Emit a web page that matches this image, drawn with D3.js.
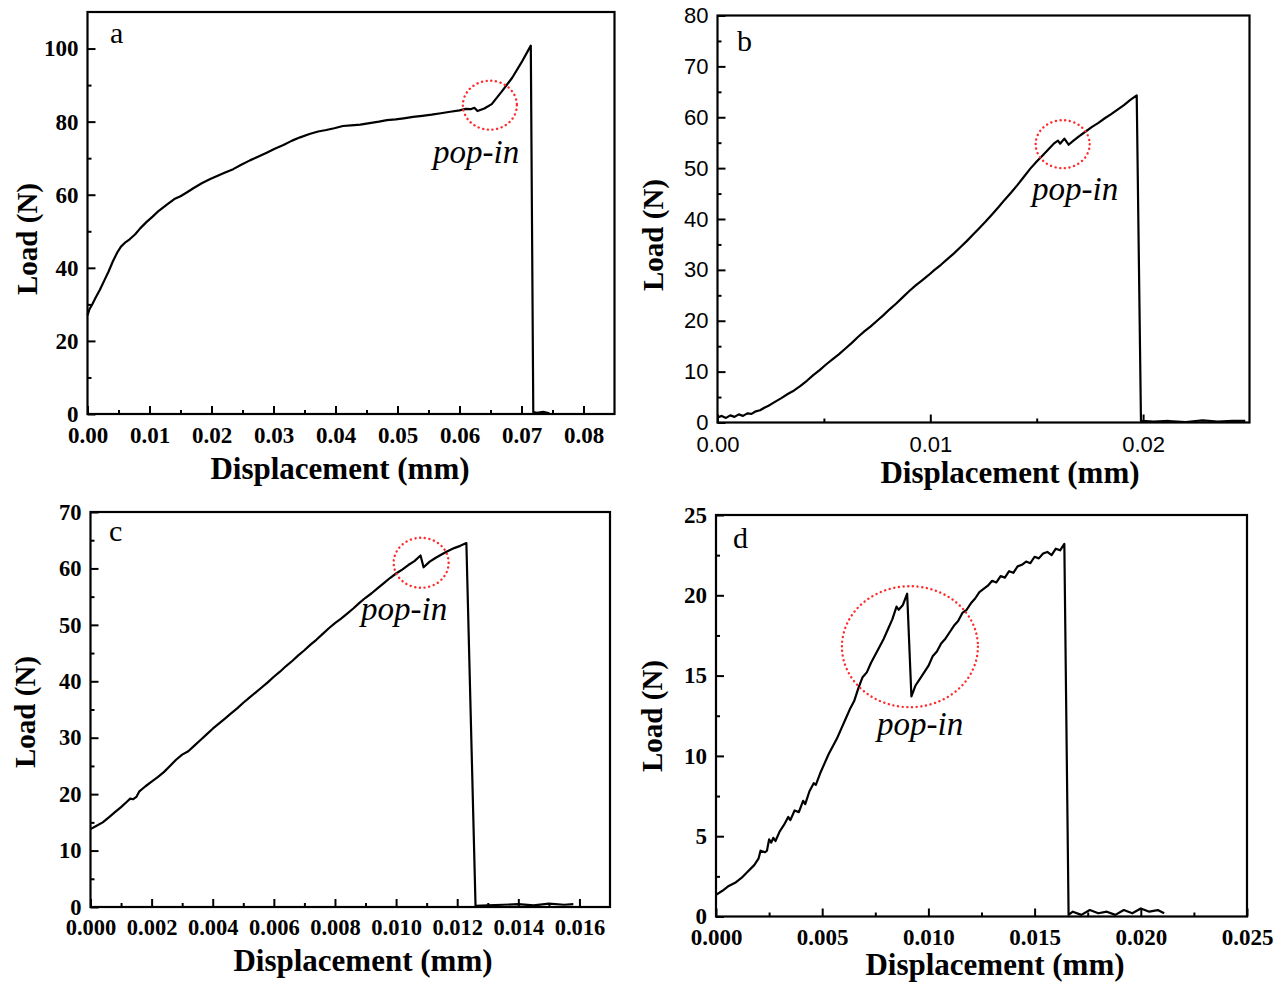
<!DOCTYPE html>
<html>
<head>
<meta charset="utf-8">
<script src="https://cdn.jsdelivr.net/npm/d3@7/dist/d3.min.js"></script>
<style>
  html, body { margin: 0; padding: 0; background: #fff; }
  svg { display: block; }
</style>
</head>
<body>
<svg id="chart" width="1286" height="984"></svg>
<script>
// ---------------- DATA ----------------
// [displacement (mm), load (N)]
const curveA = [
  [0.0000, 27.0], [0.0003, 28.6], [0.0008, 30.1], [0.0013, 31.8], [0.0020, 34.0],
  [0.0027, 36.5], [0.0034, 39.0], [0.0041, 41.8], [0.0048, 44.2], [0.0054, 45.8],
  [0.0060, 46.8], [0.0068, 47.8], [0.0077, 49.2], [0.0085, 50.8], [0.0095, 52.5],
  [0.0105, 54.0], [0.0115, 55.6], [0.0128, 57.3], [0.0140, 58.8], [0.0150, 59.6],
  [0.0160, 60.6], [0.0172, 61.9], [0.0185, 63.2], [0.0198, 64.3], [0.0210, 65.2],
  [0.0222, 66.1], [0.0235, 67.0], [0.0248, 68.2], [0.0262, 69.4], [0.0275, 70.4],
  [0.0289, 71.5], [0.0302, 72.6], [0.0316, 73.6], [0.0330, 74.8], [0.0343, 75.7],
  [0.0358, 76.6], [0.0372, 77.3], [0.0385, 77.7], [0.0398, 78.2], [0.0412, 78.8],
  [0.0425, 79.0], [0.0440, 79.2], [0.0455, 79.6], [0.0470, 80.0], [0.0483, 80.4],
  [0.0497, 80.6], [0.0510, 80.9], [0.0525, 81.3], [0.0540, 81.6], [0.0555, 81.9],
  [0.0570, 82.3], [0.0585, 82.7], [0.0600, 83.1], [0.0610, 83.5], [0.0618, 83.4],
  [0.0624, 83.8], [0.0629, 82.9], [0.0640, 83.6], [0.0652, 84.8], [0.0668, 88.2],
  [0.0685, 92.0], [0.0700, 96.2], [0.0715, 100.8], [0.0719, 0.5], [0.0725, 0.3],
  [0.0735, 0.6], [0.0745, 0.2]
];
const curveB = [
  [0.0000, 1.0], [0.0002, 1.3], [0.0004, 0.9], [0.0006, 1.4], [0.0008, 1.1],
  [0.0010, 1.6], [0.0012, 1.3], [0.0014, 1.8], [0.0016, 1.7], [0.0018, 2.2],
  [0.0020, 2.4], [0.0022, 2.9], [0.0024, 3.3], [0.0026, 3.8], [0.0028, 4.3],
  [0.0030, 4.8], [0.0033, 5.6], [0.0036, 6.3], [0.0039, 7.2], [0.0042, 8.2],
  [0.0045, 9.3], [0.0048, 10.3], [0.0051, 11.4], [0.0054, 12.4], [0.0057, 13.4],
  [0.0060, 14.5], [0.0063, 15.6], [0.0066, 16.8], [0.0069, 17.9], [0.0072, 18.9],
  [0.0075, 20.0], [0.0078, 21.1], [0.0081, 22.3], [0.0084, 23.4], [0.0087, 24.6],
  [0.0090, 25.8], [0.0093, 26.9], [0.0096, 27.9], [0.0099, 28.9], [0.0102, 30.0],
  [0.0105, 31.0], [0.0108, 32.1], [0.0111, 33.2], [0.0114, 34.4], [0.0117, 35.6],
  [0.0120, 36.9], [0.0123, 38.2], [0.0126, 39.5], [0.0129, 40.9], [0.0132, 42.3],
  [0.0135, 43.8], [0.0138, 45.2], [0.0141, 46.7], [0.0144, 48.3], [0.0147, 49.9],
  [0.0150, 51.3], [0.0153, 52.6], [0.0156, 53.9], [0.0158, 54.8], [0.0160, 55.4],
  [0.0161, 54.8], [0.0163, 55.8], [0.0165, 54.6], [0.0167, 55.3], [0.0170, 56.3],
  [0.0173, 57.2], [0.0176, 58.1], [0.0179, 58.9], [0.0182, 59.8], [0.0185, 60.6],
  [0.0188, 61.5], [0.0191, 62.4], [0.0194, 63.4], [0.0197, 64.3], [0.0199, 0.3],
  [0.0205, 0.2], [0.0212, 0.3], [0.0220, 0.1], [0.0228, 0.4], [0.0235, 0.2],
  [0.0242, 0.3], [0.0248, 0.3]
];
const curveC = [
  [0.0000, 13.8], [0.0002, 14.4], [0.0004, 15.0], [0.0006, 15.9], [0.0008, 16.8],
  [0.0010, 17.7], [0.0012, 18.7], [0.0013, 19.2], [0.0014, 19.1], [0.0015, 19.5],
  [0.0016, 20.5], [0.0018, 21.4], [0.0020, 22.2], [0.0022, 23.0], [0.0024, 23.9],
  [0.0026, 25.0], [0.0028, 26.1], [0.0030, 27.0], [0.0032, 27.6], [0.0034, 28.6],
  [0.0036, 29.6], [0.0038, 30.6], [0.0040, 31.6], [0.0042, 32.5], [0.0044, 33.4],
  [0.0046, 34.3], [0.0048, 35.2], [0.0050, 36.2], [0.0052, 37.1], [0.0054, 38.0],
  [0.0056, 38.9], [0.0058, 39.8], [0.0060, 40.8], [0.0062, 41.7], [0.0064, 42.7],
  [0.0066, 43.6], [0.0068, 44.6], [0.0070, 45.5], [0.0072, 46.5], [0.0074, 47.4],
  [0.0076, 48.4], [0.0078, 49.4], [0.0080, 50.3], [0.0082, 51.1], [0.0084, 52.0],
  [0.0086, 52.9], [0.0088, 53.9], [0.0090, 54.8], [0.0092, 55.6], [0.0094, 56.5],
  [0.0096, 57.4], [0.0098, 58.3], [0.0100, 59.1], [0.0102, 59.8], [0.0104, 60.6],
  [0.0106, 61.3], [0.0108, 62.3], [0.0109, 60.2], [0.0111, 61.2], [0.0113, 61.9],
  [0.0115, 62.5], [0.0117, 63.1], [0.0119, 63.6], [0.0121, 64.0], [0.0123, 64.5],
  [0.0126, 0.2], [0.0130, 0.3], [0.0135, 0.4], [0.0140, 0.5], [0.0145, 0.3],
  [0.0150, 0.6], [0.0155, 0.4], [0.0158, 0.5]
];
const curveD = [
  [0.0000, 1.35], [0.0003, 1.6], [0.0006, 1.9], [0.0009, 2.1], [0.0012, 2.4],
  [0.0015, 2.8], [0.0018, 3.2], [0.0020, 3.6], [0.0021, 4.1], [0.0023, 4.0],
  [0.0024, 4.1], [0.0025, 4.8], [0.0026, 4.6], [0.0027, 4.9], [0.0028, 4.7],
  [0.0030, 5.3], [0.0032, 5.7], [0.0034, 6.2], [0.0035, 6.0], [0.0037, 6.6],
  [0.0039, 6.5], [0.0041, 7.2], [0.0042, 7.0], [0.0044, 7.8], [0.0046, 8.3],
  [0.0047, 8.2], [0.0049, 8.9], [0.0051, 9.5], [0.0053, 10.1], [0.0055, 10.6],
  [0.0057, 11.1], [0.0059, 11.7], [0.0061, 12.3], [0.0063, 12.9], [0.0065, 13.4],
  [0.0067, 14.2], [0.0069, 14.9], [0.0071, 15.2], [0.0073, 15.8], [0.0075, 16.3],
  [0.0077, 16.8], [0.0079, 17.3], [0.0081, 17.9], [0.0083, 18.5], [0.0085, 19.3],
  [0.0086, 19.1], [0.0088, 19.4], [0.0090, 20.1], [0.0092, 13.7], [0.0094, 14.4],
  [0.0096, 14.8], [0.0098, 15.2], [0.0100, 15.6], [0.0102, 16.2], [0.0104, 16.5],
  [0.0106, 17.0], [0.0108, 17.3], [0.0110, 17.7], [0.0112, 18.1], [0.0114, 18.4],
  [0.0116, 18.9], [0.0118, 19.1], [0.0120, 19.5], [0.0122, 19.8], [0.0124, 20.2],
  [0.0126, 20.4], [0.0128, 20.6], [0.0130, 20.9], [0.0132, 20.8], [0.0134, 21.2],
  [0.0136, 21.1], [0.0138, 21.5], [0.0140, 21.4], [0.0142, 21.8], [0.0144, 21.9],
  [0.0146, 22.1], [0.0148, 22.0], [0.0150, 22.4], [0.0152, 22.3], [0.0154, 22.6],
  [0.0156, 22.7], [0.0158, 22.5], [0.0160, 22.9], [0.0162, 22.8], [0.0164, 23.2],
  [0.0166, 0.1], [0.0168, 0.3], [0.0172, 0.1], [0.0176, 0.4], [0.0180, 0.2],
  [0.0184, 0.3], [0.0188, 0.1], [0.0192, 0.4], [0.0196, 0.2], [0.0200, 0.5],
  [0.0204, 0.3], [0.0208, 0.4], [0.0211, 0.2]
];

// tick values
const aXTicks = [0, 0.01, 0.02, 0.03, 0.04, 0.05, 0.06, 0.07, 0.08];
const aXMinor = [0.005, 0.015, 0.025, 0.035, 0.045, 0.055, 0.065, 0.075];
const aYTicks = [0, 20, 40, 60, 80, 100];
const aYMinor = [10, 30, 50, 70, 90];
const bXTicks = [0, 0.01, 0.02];
const bXMinor = [0.005, 0.015];
const bYTicks = [0, 10, 20, 30, 40, 50, 60, 70, 80];
const bYMinor = [5, 15, 25, 35, 45, 55, 65, 75];
const cXTicks = [0, 0.002, 0.004, 0.006, 0.008, 0.010, 0.012, 0.014, 0.016];
const cXMinor = [0.001, 0.003, 0.005, 0.007, 0.009, 0.011, 0.013, 0.015];
const cYTicks = [0, 10, 20, 30, 40, 50, 60, 70];
const cYMinor = [5, 15, 25, 35, 45, 55, 65];
const dXTicks = [0, 0.005, 0.010, 0.015, 0.020, 0.025];
const dXMinor = [0.0025, 0.0075, 0.0125, 0.0175, 0.0225];
const dYTicks = [0, 5, 10, 15, 20, 25];
const dYMinor = [2.5, 7.5, 12.5, 17.5, 22.5];

// pop-in annotation centres [displacement, load]
const popA = [0.0649, 84.5];
const popB = [0.01622, 54.7];
const popC = [0.01082, 61.0];
const popD = [0.00913, 16.8];

const xTitle = "Displacement (mm)";
const yTitle = "Load (N)";
const popText = "pop-in";

// ---------------- LAYOUT ----------------
const SERIF = "'Liberation Serif','Times New Roman',serif";
const SANS = "'Liberation Sans',Arial,sans-serif";

const panels = [
  { letter: "a", data: curveA, xDom: [0, 0.085], yDom: [0, 110],
    box: [87.5, 12, 614.5, 414], xT: aXTicks, xM: aXMinor, yT: aYTicks, yM: aYMinor,
    xFmt: d3.format(".2f"), tickFont: SERIF, tickWeight: "bold", tickSize: 23, xPad: 13,
    letterPos: [110, 43], xTitlePos: [340, 479], yTitlePos: [37, 239],
    pop: popA, popR: [27, 24.5], popTextPos: [433, 163] },
  { letter: "b", data: curveB, xDom: [0, 0.025], yDom: [0, 80],
    box: [717.5, 15.5, 1249.5, 422.5], xT: bXTicks, xM: bXMinor, yT: bYTicks, yM: bYMinor,
    xFmt: d3.format(".2f"), tickFont: SANS, tickWeight: "normal", tickSize: 22, xPad: 14,
    letterPos: [737, 51], xTitlePos: [1010, 483], yTitlePos: [663, 235],
    pop: popB, popR: [27, 24], popTextPos: [1032, 200] },
  { letter: "c", data: curveC, xDom: [0, 0.017], yDom: [0, 70],
    box: [90.5, 512, 610, 907], xT: cXTicks, xM: cXMinor, yT: cYTicks, yM: cYMinor,
    xFmt: d3.format(".3f"), tickFont: SERIF, tickWeight: "bold", tickSize: 22.5, xPad: 12,
    letterPos: [109, 541], xTitlePos: [363, 971], yTitlePos: [35, 712],
    pop: popC, popR: [27.5, 25], popTextPos: [361, 620] },
  { letter: "d", data: curveD, xDom: [0, 0.025], yDom: [0, 25],
    box: [716, 515, 1247, 916.5], xT: dXTicks, xM: dXMinor, yT: dYTicks, yM: dYMinor,
    xFmt: d3.format(".3f"), tickFont: SERIF, tickWeight: "bold", tickSize: 23, xPad: 12,
    letterPos: [733, 548], xTitlePos: [995, 975], yTitlePos: [662, 716],
    pop: popD, popR: [68, 60.5], popTextPos: [877, 735] }
];

const svg = d3.select("#chart");

panels.forEach(p => {
  const [L, T, R, B] = p.box;
  const x = d3.scaleLinear().domain(p.xDom).range([L, R]);
  const y = d3.scaleLinear().domain(p.yDom).range([B, T]);
  const g = svg.append("g");

  // minor ticks
  g.append("g").attr("transform", `translate(0,${B})`)
    .call(d3.axisBottom(x).tickValues(p.xM).tickSize(-4).tickFormat(""))
    .call(s => s.select(".domain").remove())
    .selectAll("line").attr("stroke", "#000").attr("stroke-width", 2);
  g.append("g").attr("transform", `translate(${L},0)`)
    .call(d3.axisLeft(y).tickValues(p.yM).tickSize(-4).tickFormat(""))
    .call(s => s.select(".domain").remove())
    .selectAll("line").attr("stroke", "#000").attr("stroke-width", 2);

  // major ticks + labels
  const xa = g.append("g").attr("transform", `translate(0,${B})`)
    .call(d3.axisBottom(x).tickValues(p.xT).tickSize(-8).tickPadding(p.xPad).tickFormat(p.xFmt));
  const ya = g.append("g").attr("transform", `translate(${L},0)`)
    .call(d3.axisLeft(y).tickValues(p.yT).tickSize(-8).tickPadding(9).tickFormat(d3.format("d")));
  [xa, ya].forEach(a => {
    a.select(".domain").remove();
    a.attr("font-family", p.tickFont).attr("font-size", p.tickSize).attr("font-weight", p.tickWeight);
    a.selectAll("line").attr("stroke", "#000").attr("stroke-width", 2);
    a.selectAll("text").attr("fill", "#000");
  });

  // curve
  const line = d3.line().x(d => x(d[0])).y(d => y(d[1]));
  g.append("path").datum(p.data).attr("d", line)
    .attr("fill", "none").attr("stroke", "#000").attr("stroke-width", 2.2)
    .attr("stroke-linejoin", "round");

  // frame
  g.append("rect").attr("x", L).attr("y", T).attr("width", R - L).attr("height", B - T)
    .attr("fill", "none").attr("stroke", "#000").attr("stroke-width", 2.2);

  // pop-in ellipse
  g.append("ellipse").attr("cx", x(p.pop[0])).attr("cy", y(p.pop[1]))
    .attr("rx", p.popR[0]).attr("ry", p.popR[1])
    .attr("fill", "none").attr("stroke", "#ff2a2a").attr("stroke-width", 2.4)
    .attr("stroke-dasharray", "0.1,4.6").attr("stroke-linecap", "round");

  g.append("text").attr("x", p.popTextPos[0]).attr("y", p.popTextPos[1])
    .attr("font-family", SERIF).attr("font-style", "italic").attr("font-size", 33)
    .text(popText);

  // letter
  g.append("text").attr("x", p.letterPos[0]).attr("y", p.letterPos[1])
    .attr("font-family", SERIF).attr("font-size", 30).text(p.letter);

  // titles
  g.append("text").attr("x", p.xTitlePos[0]).attr("y", p.xTitlePos[1])
    .attr("text-anchor", "middle").attr("font-family", SERIF).attr("font-weight", "bold")
    .attr("font-size", 31).text(xTitle);
  g.append("text")
    .attr("transform", `translate(${p.yTitlePos[0]},${p.yTitlePos[1]}) rotate(-90)`)
    .attr("text-anchor", "middle").attr("font-family", SERIF).attr("font-weight", "bold")
    .attr("font-size", 29).text(yTitle);
});
</script>
</body>
</html>
